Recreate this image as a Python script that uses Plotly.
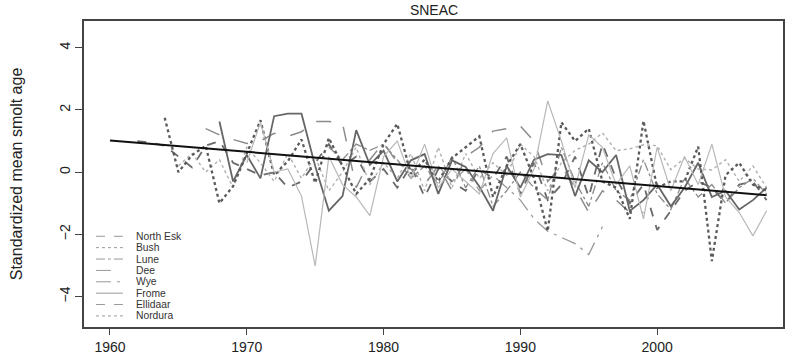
import plotly.graph_objects as go

# ---------------- data ----------------
north_esk_years = list(range(1962, 2009))
north_esk = [1.0, 0.95, 0.85, 0.5, 0.15, 0.85, 1.0, 0.3, 0.1, -0.1,
             0.0, -0.5, -0.3, 0.3, 0.9, 0.2, 0.5, -0.3, 0.1, -0.5,
             0.2, -0.8, 0.1, -0.3, -0.6, 0.1, -0.2, 0.5, -0.7, 0.3,
             -0.9, -0.4, 0.5, -0.8, 0.9, -0.2, -1.0, -0.4, -1.86, -1.24,
             -0.6, -0.3, -0.5, -1.0, -0.4, -0.3, -0.9]

bush_years = list(range(1965, 2009))
bush = [0.2, 0.6, 0.0, 0.4, -0.5, 0.8, 0.3, -0.3, 0.6, -0.2,
        0.5, -0.6, 0.0, 0.8, -0.4, 0.3, -0.2, 0.6, -0.6, 0.8,
        -0.5, 0.6, -0.2, 0.3, -0.1, 0.9, 0.5, -0.6, 0.3, 0.7,
        0.9, 1.26, 0.69, 0.75, 0.88, 0.85, 0.08, 0.45, 0.1, 0.07,
        0.4, -0.3, 0.2, -0.5]

lune_years = list(range(1976, 2009))
lune = [0.8, 0.4, 0.9, 0.7, 0.9, 0.4, -0.2, 0.2, -0.4, 0.5,
        -0.5, 0.2, -1.1, -0.6, 0.0, -0.5, -0.9, 0.8, -0.3, -1.1,
        0.3, -0.6, -0.9, 0.4, -0.7, -1.2, -0.2, -0.8, -0.4, -1.0,
        -0.5, -0.2, -0.7]

dee_years = list(range(1967, 2000))
dee = [1.4, 1.2, 1.05, 0.92, 1.0, 1.25, 1.15, 1.3, 1.63, 1.63,
       1.57, -0.5, 0.4, 0.95, 0.3, 0.1, -0.4, 0.2, -0.6, 0.5,
       0.8, 1.32, 1.4, 1.48, 1.0, -0.3, 0.2, -0.5, -1.3, -0.6,
       -0.9, -1.3, -1.3]

wye_years = list(range(1984, 1997))
wye = [0.2, -0.3, 0.1, -0.6, -0.1, -0.5, -0.9, -1.5, -1.9, -2.1,
       -2.3, -2.65, -1.75]

frome_years = list(range(1968, 2009))
frome = [1.63, -0.3, 0.55, -0.2, 1.8, 1.88, 1.88, 0.2, -1.24, -0.77,
         1.35, 0.23, 0.69, -0.3, 0.38, 0.58, -0.7, 0.38, 0.17, -0.46,
         -1.24, 0.2, -0.5, 0.4, 0.58, 0.55, -0.77, 0.38, 0.0, 0.55,
         -1.25, -0.9, -0.4, -1.1, -0.5, 0.3, -0.8, -0.6, -1.2, -0.9,
         -0.5]

ellidaar_years = list(range(1964, 2009))
ellidaar = [1.75, 0.0, 0.55, 0.85, -1.0, -0.45, 0.6, 1.67, -0.1, 0.35,
            1.05, -0.35, 1.1, 0.2, -0.7, -0.2, 0.9, 1.55, -0.05, 0.4,
            -0.3, 0.45, 0.8, 1.15, -0.8, 0.2, 0.9, -0.2, -1.9, 1.6,
            1.0, 1.4, -0.3, -0.5, -1.5, 1.65, -0.5, -0.3, -0.3, 0.82,
            -2.86, -0.1, 0.3, -0.4, -0.6]

nordura_years = list(range(1970, 2009))
nordura = [0.3, 1.6, 0.0, 0.1, -0.77, -3.02, 0.5, -0.4, -0.8, -1.4,
           0.5, 1.0, -0.2, 0.9, -0.5, 0.1, -0.3, -0.7, 0.6, 1.1,
           -0.8, 0.1, 2.29, 1.0, -0.5, 1.2, 0.8, -0.4, 0.2, -1.5,
           0.8, -0.6, 0.5, -0.4, 0.9, -0.8, -1.3, -2.05, -1.24]

trend_years = [1960, 2008]
trend_values = [1.02, -0.74]

series_names = ["North Esk", "Bush", "Lune", "Dee", "Wye", "Frome", "Ellidaar", "Nordura"]
series_years = [north_esk_years, bush_years, lune_years, dee_years, wye_years,
                frome_years, ellidaar_years, nordura_years]
series_values = [north_esk, bush, lune, dee, wye, frome, ellidaar, nordura]

x_ticks = [1960, 1970, 1980, 1990, 2000]
y_ticks = [-4, -2, 0, 2, 4]

# ---------------- styles ----------------
styles = {
    "North Esk": dict(color="#6a6a6a", dash="dash", width=1.8),
    "Bush": dict(color="#b0b0b0", dash="dot", width=1.4),
    "Lune": dict(color="#8a8a8a", dash="dashdot", width=1.3),
    "Dee": dict(color="#8c8c8c", dash="longdash", width=1.5),
    "Wye": dict(color="#9a9a9a", dash="longdashdot", width=1.3),
    "Frome": dict(color="#666666", dash="solid", width=1.8),
    "Ellidaar": dict(color="#5a5a5a", dash="dot", width=2.3),
    "Nordura": dict(color="#b8b8b8", dash="solid", width=1.2),
}
legend_dash = {"North Esk": "dash", "Bush": "dot", "Lune": "dashdot", "Dee": "longdash",
               "Wye": "longdashdot", "Frome": "solid", "Ellidaar": "dash", "Nordura": "dot"}

FONT = "Liberation Sans, Arial, Helvetica, sans-serif"
W, H = 786, 356
ML, MR, MT, MB = 84, 1, 21, 23
PW, PH = W - ML - MR, H - MT - MB

fig = go.Figure()
for name, yrs, vals in zip(series_names, series_years, series_values):
    fig.add_trace(go.Scatter(x=yrs, y=vals, mode="lines", name=name,
                             line=dict(**styles[name]), showlegend=False))

fig.add_trace(go.Scatter(x=trend_years, y=trend_values, mode="lines",
                         line=dict(color="#111111", width=2), showlegend=False))

# custom compact legend (bottom-left, no frame)
shapes = []
annotations = []
for i, name in enumerate(series_names):
    ypx = 240.5 + 11.6 * i
    yp = (MT + PH - ypx) / PH
    shapes.append(dict(type="line", xref="paper", yref="paper",
                       x0=(96 - ML) / PW, x1=(123 - ML) / PW, y0=yp, y1=yp,
                       line=dict(color="#999999", width=1, dash=legend_dash[name])))
    annotations.append(dict(xref="paper", yref="paper", x=(135 - ML) / PW, y=yp,
                            xanchor="left", yanchor="middle", showarrow=False,
                            borderpad=0, valign="middle",
                            text=name, font=dict(family=FONT, size=10.3, color="#333333")))

fig.update_layout(
    width=W, height=H,
    margin=dict(l=ML, r=MR, t=MT, b=MB, pad=0),
    paper_bgcolor="white", plot_bgcolor="white",
    font=dict(family=FONT, color="#222222"),
    title=dict(text="SNEAC", x=434 / W, xanchor="center", y=1 - 10 / H, yanchor="middle",
               font=dict(family=FONT, size=14, color="#222222")),
    shapes=shapes, annotations=annotations,
)
fig.update_xaxes(range=[1958.1, 2009.2], tickvals=x_ticks, ticks="outside", ticklen=6,
                 tickcolor="#444444", showgrid=False, zeroline=False,
                 showline=True, mirror=True, linecolor="#444444", linewidth=1.5,
                 tickfont=dict(family=FONT, size=14, color="#222222"))
fig.update_yaxes(range=[-4.98, 4.86], tickvals=y_ticks, ticks="outside", ticklen=7,
                 tickcolor="#444444", tickangle=-90, showgrid=False, zeroline=False,
                 showline=True, mirror=True, linecolor="#444444", linewidth=1.5,
                 tickfont=dict(family=FONT, size=14, color="#222222"),
                 title=dict(text="Standardized mean smolt age", standoff=30,
                            font=dict(family=FONT, size=16, color="#222222")))

fig.write_html("out.html")
